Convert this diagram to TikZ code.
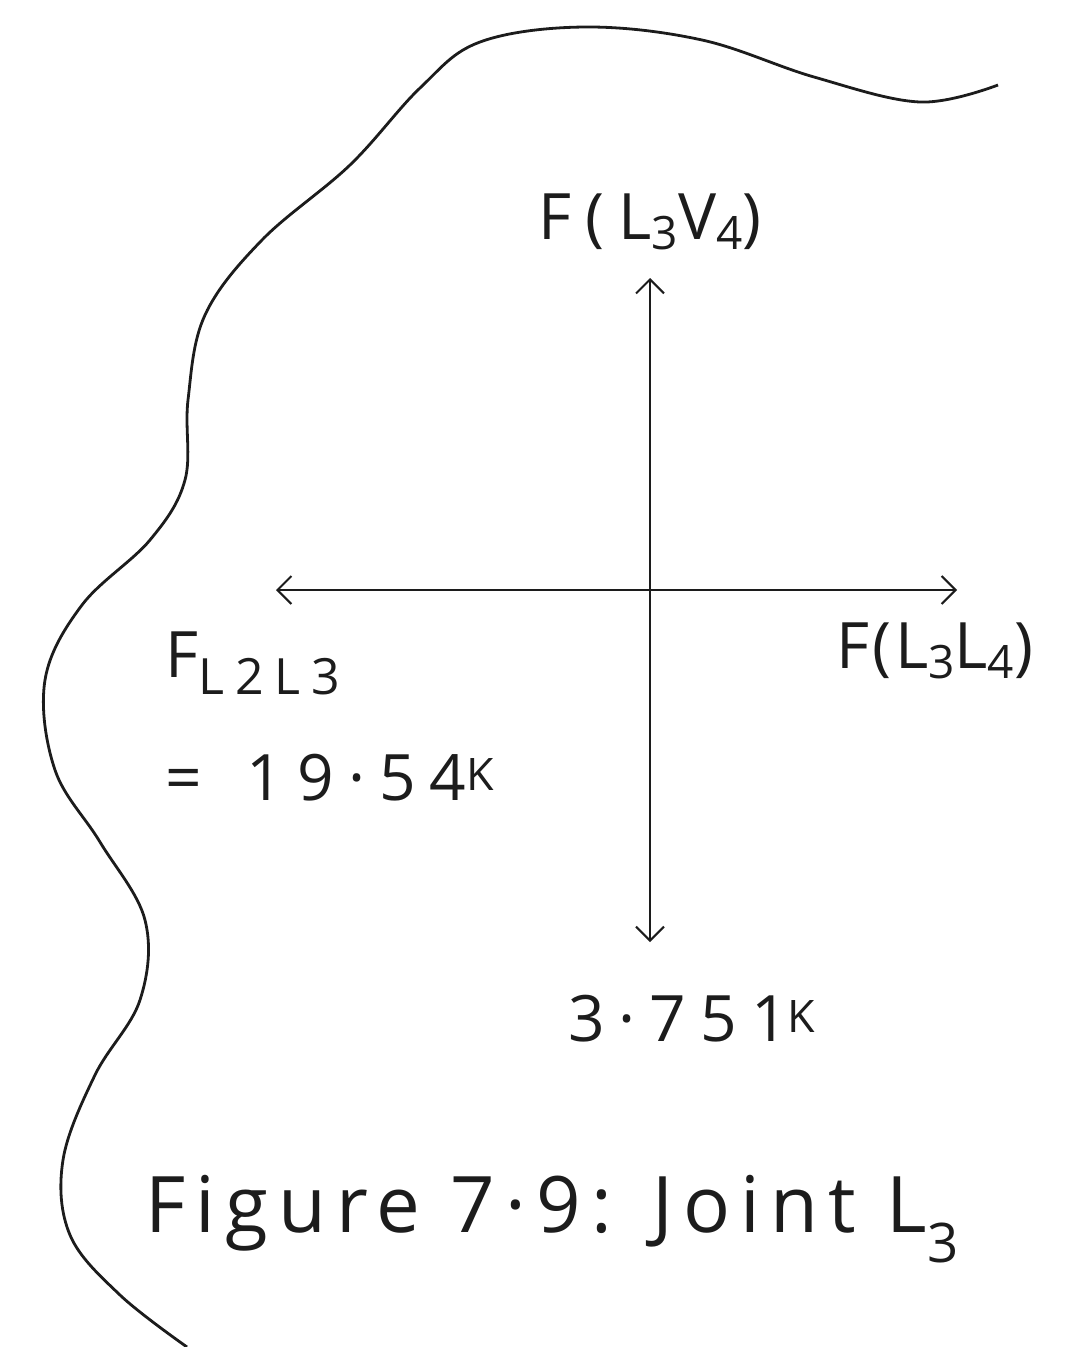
\documentclass[tikz,border=0pt]{standalone}
\usepackage{fontspec}
\setmainfont{Open Sans}
\newfontfamily\handfont{Open Sans}[LetterSpace=22]
\newfontfamily\tighthand{Open Sans}[LetterSpace=5]
\newfontfamily\capfont{Open Sans}[LetterSpace=13]
\usepackage{tikz}
\usetikzlibrary{arrows.meta,positioning}
\usepackage{xcolor}
\definecolor{sketchink}{HTML}{1C1C1C}
\newcommand{\lowsub}[1]{\raisebox{-17pt}{\fontsize{50}{54}\selectfont #1}}
\newcommand{\midsub}[1]{\raisebox{-10pt}{\fontsize{46}{50}\selectfont #1}}
\tikzset{
  forcelabel/.style={
    inner sep=0pt,
    text=sketchink,
    font=\handfont\fontsize{64}{70}\selectfont
  },
  captionlabel/.style={forcelabel, font=\capfont\fontsize{78}{86}\selectfont},
  forcearrow/.style={
    {Straight Barb[length=14pt,width=28pt]}-{Straight Barb[length=14pt,width=28pt]},
    line width=2pt,
    draw=sketchink
  },
  bodyoutline/.style={line width=2.8pt, draw=sketchink}
}

\begin{document}
\begin{tikzpicture}[x=1pt,y=-1pt]
\useasboundingbox (0,0) rectangle (1075,1347);
% cut through the truss round the joint
\draw[bodyoutline] plot[smooth, tension=0.6] coordinates {
  (998,85) (920,102) (814,77) (702,40) (585,27) (480,42) (420,88)
  (350,165) (262,240) (205,315) (188,400) (185,480) (150,540) (82,605)
  (45,680) (55,770) (100,842) (145,920) (140,1000) (95,1075) (63,1160)
  (70,1235) (120,1295) (187,1347)};
\coordinate (ntip) at (650,278);
\coordinate (stip) at (650,942);
\coordinate (wtip) at (276,590);
\coordinate (etip) at (957,590);
\draw[forcearrow] (stip) -- (ntip);
\draw[forcearrow] (wtip) -- (etip);
\node[forcelabel, above=28pt of ntip] (fup) {F(L\midsub{3}V\midsub{4})};
\node[forcelabel, font=\tighthand\fontsize{64}{70}\selectfont, below=33pt of etip, xshift=-22pt] (fright) {F(L\midsub{3}L\midsub{4})};
\node[forcelabel, below=53pt of stip, xshift=42pt] (fdown) {3·751\textsuperscript{K}};
\node[forcelabel, anchor=base west] (fleft) at (165,677) {F\lowsub{L2L3}};
\node[forcelabel, anchor=base west] (fleftval) at (165,800) {=\hspace{45pt}19·54\textsuperscript{K}};
\node[captionlabel, anchor=base west] (caption) at (145,1232) {Figure 7·9: Joint L\textsubscript{3}};
\end{tikzpicture}
\end{document}
